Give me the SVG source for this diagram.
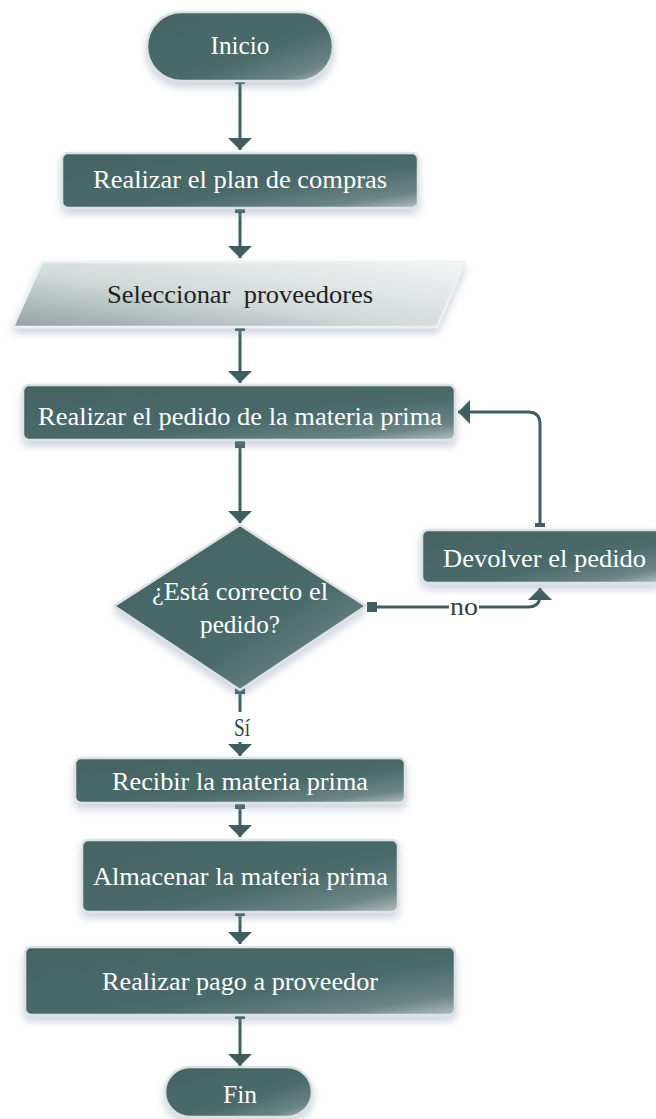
<svg xmlns="http://www.w3.org/2000/svg" width="656" height="1119" viewBox="0 0 656 1119">
<defs>
<linearGradient id="dark" x1="0" y1="0" x2="1" y2="1">
<stop offset="0" stop-color="#456363"/>
<stop offset="0.6" stop-color="#4b6a6a"/>
<stop offset="0.85" stop-color="#6b8484"/>
<stop offset="1" stop-color="#b3bfbf"/>
</linearGradient>
<linearGradient id="light" x1="0" y1="1" x2="1" y2="0">
<stop offset="0" stop-color="#93a2a2"/>
<stop offset="0.45" stop-color="#d3dada"/>
<stop offset="1" stop-color="#f3f5f5"/>
</linearGradient>
<filter id="sh" x="-10%" y="-20%" width="120%" height="150%">
<feDropShadow dx="0" dy="5" stdDeviation="4" flood-color="#7d8ca8" flood-opacity="0.4"/>
</filter>
<marker id="ah" markerUnits="userSpaceOnUse" markerWidth="13" markerHeight="24" refX="12" refY="12" orient="auto">
<path d="M0,0 L12,12 L0,24 z" fill="#3f5e5e"/>
</marker>
</defs>
<style>
.node{fill:url(#dark);stroke:#dde3e3;stroke-width:2.5;filter:url(#sh)}
.io{fill:url(#light);stroke:#eef1f1;stroke-width:2.5;filter:url(#sh)}
text{font-family:'Liberation Serif','Times New Roman',serif}
.t{font-size:25px;fill:#ffffff;text-anchor:middle}
.td{fill:#222222}
.c{fill:none;stroke:#3f5e5e;stroke-width:3}
.sq{fill:#3f5e5e}
.lbl{font-size:25px;fill:#2f4545;text-anchor:middle}
</style>
<g id="connectors">
<rect class="sq" x="235" y="80" width="10" height="4"/>
<path class="c" d="M240,83 V150" marker-end="url(#ah)"/>
<rect class="sq" x="235" y="209" width="10" height="4"/>
<path class="c" d="M240,211 V258" marker-end="url(#ah)"/>
<rect class="sq" x="235" y="321" width="10" height="10"/>
<path class="c" d="M240,330 V383" marker-end="url(#ah)"/>
<rect class="sq" x="235" y="438" width="10" height="10"/>
<path class="c" d="M240,447 V523" marker-end="url(#ah)"/>
<rect class="sq" x="367" y="602" width="10" height="10"/>
<path class="c" d="M376,607 H528 Q540,607 540,595 V588" marker-end="url(#ah)"/>
<rect x="449" y="596" width="30" height="22" fill="#ffffff"/>
<text class="lbl" x="464" y="615" textLength="28" lengthAdjust="spacingAndGlyphs">no</text>
<rect class="sq" x="535" y="523" width="10" height="4"/>
<path class="c" d="M540,525 V424 Q540,412 528,412 H458" marker-end="url(#ah)"/>
<rect class="sq" x="235" y="684" width="10" height="10"/>
<path class="c" d="M240,693 V712"/>
<text class="lbl" x="242" y="736" textLength="16" lengthAdjust="spacingAndGlyphs">Sí</text>
<path class="c" d="M240,742 V756" marker-end="url(#ah)"/>
<rect class="sq" x="235" y="799" width="10" height="10"/>
<path class="c" d="M240,808 V837" marker-end="url(#ah)"/>
<rect class="sq" x="235" y="906" width="10" height="10"/>
<path class="c" d="M240,915 V944" marker-end="url(#ah)"/>
<rect class="sq" x="235" y="1015" width="10" height="4"/>
<path class="c" d="M240,1017 V1066" marker-end="url(#ah)"/>
</g>
<g id="inicio">
<rect class="node" x="147" y="12" width="186" height="69" rx="34.5"/>
<text class="t" x="240" y="54" textLength="59" lengthAdjust="spacingAndGlyphs">Inicio</text>
</g>
<g id="plan">
<rect class="node" x="62" y="153" width="356" height="55" rx="6"/>
<text class="t" x="240" y="188" textLength="294" lengthAdjust="spacingAndGlyphs">Realizar el plan de compras</text>
</g>
<g id="seleccionar">
<path class="io" d="M42,262 H465 L437,327 H13 Z" stroke-linejoin="round"/>
<text class="t td" x="240" y="303" textLength="266" lengthAdjust="spacingAndGlyphs" xml:space="preserve">Seleccionar  proveedores</text>
</g>
<g id="pedido">
<rect class="node" x="23" y="385" width="432" height="55" rx="6"/>
<text class="t" x="240" y="425" textLength="404" lengthAdjust="spacingAndGlyphs">Realizar el pedido de la materia prima</text>
</g>
<g id="decision">
<path class="node" d="M240,525 L366,606 L240,690 L114,606 Z" stroke-linejoin="round"/>
<text class="t" x="240" y="600" textLength="176" lengthAdjust="spacingAndGlyphs">¿Está correcto el</text>
<text class="t" x="240" y="633" textLength="80" lengthAdjust="spacingAndGlyphs">pedido?</text>
</g>
<g id="devolver">
<rect class="node" x="422" y="530" width="240" height="53" rx="6"/>
<text class="t" x="544.5" y="567" textLength="203" lengthAdjust="spacingAndGlyphs">Devolver el pedido</text>
</g>
<g id="recibir">
<rect class="node" x="75" y="758" width="330" height="45" rx="6"/>
<text class="t" x="240" y="790" textLength="256" lengthAdjust="spacingAndGlyphs">Recibir la materia prima</text>
</g>
<g id="almacenar">
<rect class="node" x="82" y="840" width="316" height="72" rx="6"/>
<text class="t" x="240.5" y="885" textLength="295" lengthAdjust="spacingAndGlyphs">Almacenar la materia prima</text>
</g>
<g id="pago">
<rect class="node" x="25" y="947" width="430" height="68" rx="6"/>
<text class="t" x="240" y="990" textLength="276" lengthAdjust="spacingAndGlyphs">Realizar pago a proveedor</text>
</g>
<g id="fin">
<rect class="node" x="165" y="1067" width="147" height="50" rx="25"/>
<text class="t" x="240" y="1103" textLength="34" lengthAdjust="spacingAndGlyphs">Fin</text>
</g>
</svg>
